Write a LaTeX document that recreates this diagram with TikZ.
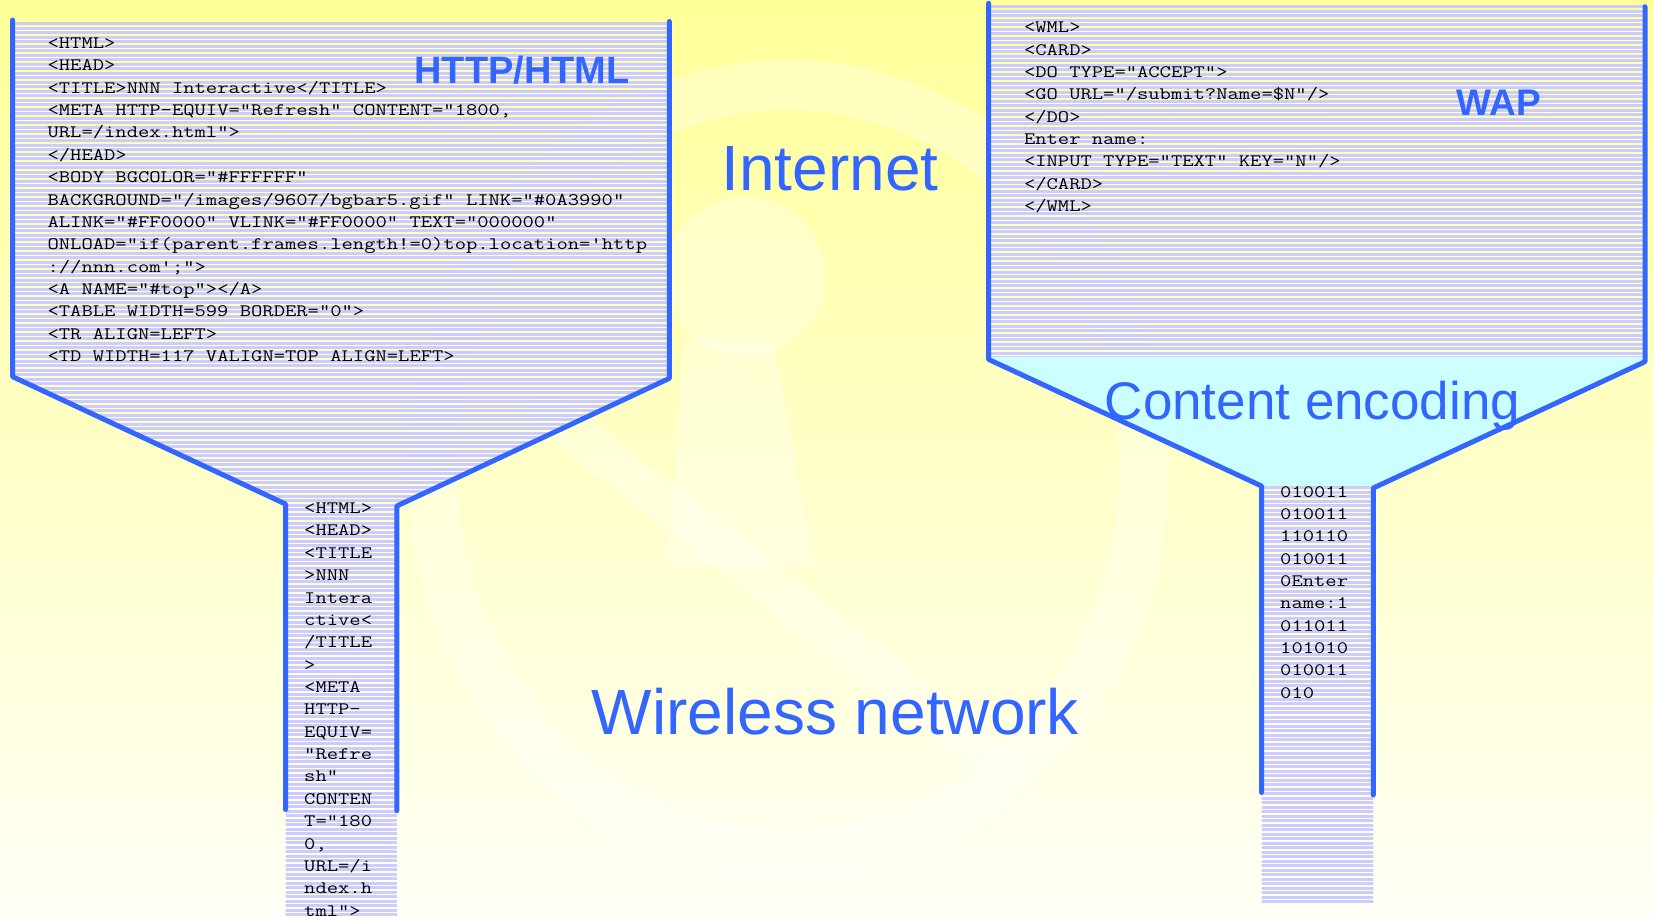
\documentclass[tikz,border=0pt]{standalone}
\usepackage{fontspec}
\usepackage{graphicx}
\newfontfamily\labelfont{Liberation Sans}

\definecolor{linkblue}{RGB}{51,102,255}
\definecolor{lavender}{RGB}{204,204,255}
\definecolor{paleCyan}{RGB}{204,255,255}
\definecolor{bgTop}{RGB}{255,255,153}
\definecolor{bgMid}{RGB}{255,255,185}
\definecolor{bgBottom}{RGB}{255,255,246}

% code listing: typewriter face, widened to a Courier-like pitch
\newcommand\codesize{\ttfamily\fontsize{17.5}{22.36}\selectfont\frenchspacing}
\newcommand\codeblock[1]{\scalebox{1.255}[1]{\begin{tabular}[t]{@{}l@{}}#1\end{tabular}}}

% horizontal lavender bands with thin gaps; every other gap is white
\newcommand\stripefill[4]{%
  \foreach \k in {0,...,#4}{%
    \fill[lavender] (#1,{#3+4.5*\k}) rectangle (#2,{#3+4.5*\k+3.4});
    \ifodd\k
      \fill[white] (#1,{#3+4.5*\k+3.4}) rectangle (#2,{#3+4.5*\k+4.5});
    \fi
  }}

\tikzset{
  edgeline/.style={draw=linkblue, line width=5pt, line cap=round, line join=round},
  codetext/.style={anchor=base west, inner sep=0pt, font=\codesize},
  bigtitle/.style={text=linkblue, inner sep=0pt, anchor=base},
  ghost/.style={white, opacity=0.3},
}

\begin{document}
\begin{tikzpicture}[x=1pt, y=-1pt]
\useasboundingbox (0,0) rectangle (1653,916);

% background
\shade[top color=bgTop, middle color=bgMid, bottom color=bgBottom] (0,0) rectangle (1653,916);

% faint emblem behind everything
\draw[ghost, line width=50pt] (788,470) ellipse [x radius=356, y radius=385];
\fill[ghost] (745,276) circle [radius=80];
\fill[ghost] (683,340) -- (773,340) -- (815,565) -- (668,565) -- cycle;
\draw[ghost, line width=40pt, line cap=round] (545,410) -- (1000,765);

% HTTP/HTML funnel body
\begin{scope}
  \clip (12.6,22) -- (669.4,22) -- (669.4,378.3) -- (396.8,506) -- (396.8,920)
        -- (285.5,920) -- (285.5,504) -- (12.6,376.7) -- cycle;
  \stripefill{10}{672}{22}{200}
\end{scope}

% WAP funnel: upper listing area
\begin{scope}
  \clip (988.6,5) rectangle (1645,357);
  \stripefill{986}{1648}{5}{79}
\end{scope}
% WAP funnel: encoding cone
\fill[paleCyan] (988.6,357) -- (1645,357) -- (1645,361.7) -- (1373.3,488)
                -- (1261.5,486) -- (988.6,359.4) -- cycle;
% WAP funnel: narrow binary column
\begin{scope}
  \clip (1261.5,486) rectangle (1373.3,902);
  \stripefill{1259}{1376}{486}{93}
\end{scope}

% funnel outlines
\draw[edgeline] (12.6,20) -- (12.6,376.7) -- (285.5,504) -- (285.5,809.5);
\draw[edgeline] (669.4,21.5) -- (669.4,378.3) -- (396.8,506) -- (396.8,810.7);
\draw[edgeline] (988.6,3.3) -- (988.6,359.4) -- (1261.5,486) -- (1261.5,792.5);
\draw[edgeline] (1645,6.7) -- (1645,361.7) -- (1373.3,488) -- (1373.3,795);

% listings
\node[codetext] (htmlCode) at (47.4,48.5) {\codeblock{%
<HTML>\\
<HEAD>\\
<TITLE>NNN Interactive</TITLE>\\
<META HTTP-EQUIV="Refresh" CONTENT="1800,\\
URL=/index.html">\\
</HEAD>\\
<BODY BGCOLOR="\#FFFFFF"\\
BACKGROUND="/images/9607/bgbar5.gif" LINK="\#0A3990"\\
ALINK="\#FF0000" VLINK="\#FF0000" TEXT="000000"\\
ONLOAD="if(parent.frames.length!=0)top.location='http\\
://nnn.com';">\\
<A NAME="\#top"></A>\\
<TABLE WIDTH=599 BORDER="0">\\
<TR ALIGN=LEFT>\\
<TD WIDTH=117 VALIGN=TOP ALIGN=LEFT>}};

\node[codetext] (htmlNarrow) at (304,513.6) {\codeblock{%
<HTML>\\
<HEAD>\\
<TITLE\\
>NNN\\
Intera\\
ctive<\\
/TITLE\\
>\\
<META\\
HTTP-\\
EQUIV=\\
"Refre\\
sh"\\
CONTEN\\
T="180\\
0,\\
URL=/i\\
ndex.h\\
tml">}};

\node[codetext] (wmlCode) at (1023.8,32.7) {\codeblock{%
<WML>\\
<CARD>\\
<DO TYPE="ACCEPT">\\
<GO URL="/submit?Name=\$N"/>\\
</DO>\\
Enter name:\\
<INPUT TYPE="TEXT" KEY="N"/>\\
</CARD>\\
</WML>}};

\node[codetext] (wmlBinary) at (1280,497) {\codeblock{%
010011\\
010011\\
110110\\
010011\\
0Enter\\
name:1\\
011011\\
101010\\
010011\\
010}};

% headings
\node[bigtitle, font=\labelfont\bfseries\fontsize{38}{38}\selectfont] (httpTitle) at (522,83.3) {HTTP/HTML};
\node[bigtitle, font=\labelfont\bfseries\fontsize{37}{37}\selectfont] (wapTitle) at (1499,115) {WAP};
\node[bigtitle, font=\labelfont\fontsize{64}{64}\selectfont] (internetLabel) at (830,190) {Internet};
\node[bigtitle, font=\labelfont\fontsize{64}{64}\selectfont] (wirelessLabel) at (835.4,734.5) {Wireless network};
\node[bigtitle, font=\labelfont\fontsize{53}{53}\selectfont] (encodingLabel) at (1312.5,419) {Content encoding};
\end{tikzpicture}
\end{document}
